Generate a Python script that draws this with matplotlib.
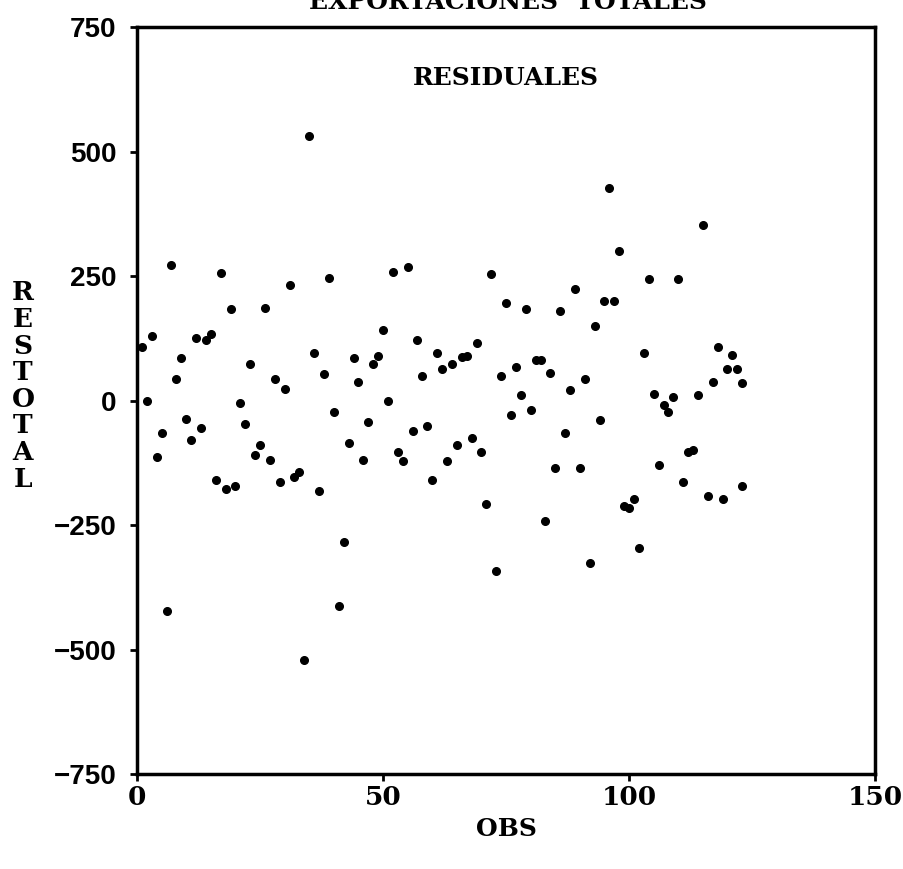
#!/usr/bin/env python3
# Residual scatter plot: RESTOTAL vs OBS (Exportaciones Totales)

import numpy as np
import matplotlib.pyplot as plt

# Observation numbers and residuals read off the reference picture
# (the last observation shows two points at the same x)
obs = list(range(1, 124)) + [123]
restotal = [
    107, 0, 130, -113, -66, -422, 273, 44, 86, -37,
    -79, 125, -56, 121, 134, -160, 256, -178, 183, -171,
    -5, -47, 74, -110, -89, 185, -119, 43, -163, 24,
    232, -153, -143, -522, 532, 96, -181, 54, 247, -23,
    -413, -284, -85, 86, 38, -119, -43, 73, 90, 141,
    0, 259, -103, -121, 268, -62, 122, 50, -51, -160,
    96, 63, -121, 73, -89, 87, 90, -75, 115, -103,
    -207, 254, -343, 49, 195, -30, 67, 12, 183, -19,
    82, 82, -242, 56, -135, 180, -65, 22, 223, -136,
    44, -326, 149, -39, 199, 427, 200, 301, -211, -216,
    -198, -297, 96, 245, 14, -130, -9, -23, 7, 244,
    -164, -104, -100, 12, 353, -192, 38, 108, -197, 64,
    92, 64, 36, -171,
]
obs = np.array(obs)
restotal = np.array(restotal)

x_ticks = [0, 50, 100, 150]
y_ticks = [-750, -500, -250, 0, 250, 500, 750]

fig = plt.figure(figsize=(9.04, 8.69), dpi=100)
ax = fig.add_axes([0.1516, 0.1093, 0.8164, 0.8596])

ax.plot(obs, restotal, 'o', color='black', markersize=5.5)

ax.set_xlim(0, 150)
ax.set_ylim(-750, 750)
ax.set_xticks(x_ticks)
ax.set_yticks(y_ticks)
ax.set_xticklabels([str(t) for t in x_ticks], family='DejaVu Serif',
                   fontweight='bold', fontsize=19)
ax.set_yticklabels([str(t).replace('-', '\u2212') for t in y_ticks],
                   family='Liberation Sans', fontweight='bold', fontsize=20)
ax.tick_params(direction='out', length=5, width=2, pad=3)
ax.tick_params(axis='y', pad=10)
for s in ax.spines.values():
    s.set_linewidth(2.5)

ax.set_xlabel("OBS", family='DejaVu Serif', fontweight='bold',
              fontsize=18, labelpad=5)
ax.text(0.5, 0.932, "RESIDUALES", transform=ax.transAxes, ha='center',
        va='center', family='DejaVu Serif', fontweight='bold', fontsize=18)

# Vertical stacked y label
fig.text(23 / 904, 1 - 386 / 869, "\n".join("RESTOTAL"), ha='center',
         va='center', family='DejaVu Serif', fontweight='bold',
         fontsize=19, linespacing=1.08)

# Title clipped at top edge like the original scan
fig.text(508 / 904, 1 - 9 / 869, "EXPORTACIONES  TOTALES", ha='center',
         va='baseline', family='DejaVu Serif', fontweight='bold', fontsize=18)

plt.savefig("out.png", dpi=100)
